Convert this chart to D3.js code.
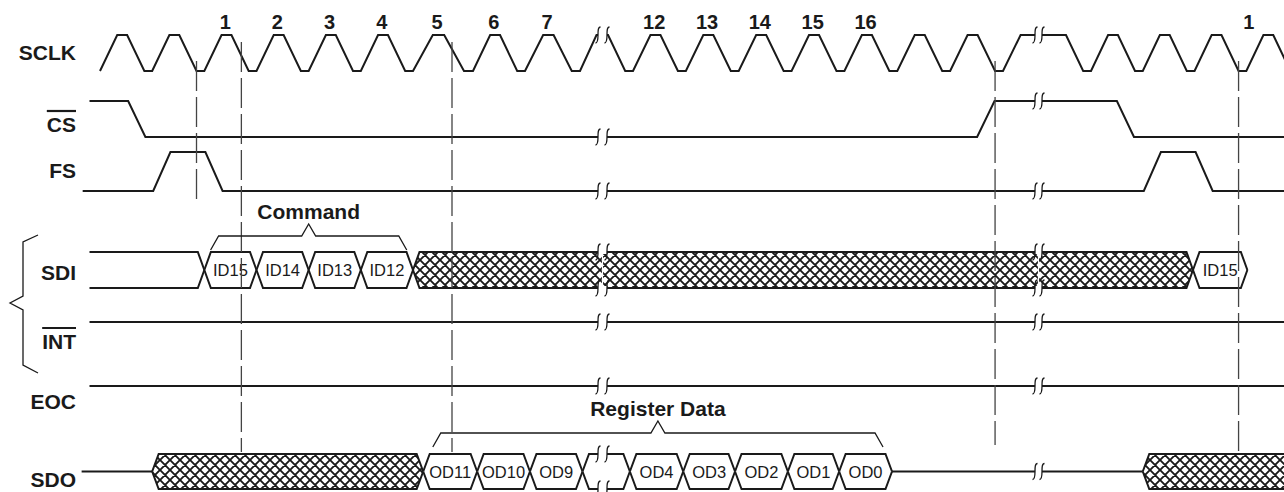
<!DOCTYPE html>
<html>
<head>
<meta charset="utf-8">
<script src="https://cdn.jsdelivr.net/npm/d3@7"></script>
<style>
  body { margin: 0; background: #fff; }
  text { font-family: 'Liberation Sans', Arial, sans-serif; fill: #1a1a1a; }
</style>
</head>
<body>
<script>
// time is counted in SCLK periods: cycle n starts rising at t = n
// (second frame: its cycle "1" is t = 24)
const signalNames = ['SCLK', 'CS', 'FS', 'SDI', 'INT', 'EOC', 'SDO'];
const overlined = ['CS', 'INT'];

const sclkRise = [-1, 0, 1, 2, 3, 4, 5, 6, 7, 8, 12, 13, 14, 15, 16, 17, 18, 19, 21, 22, 23, 24, 25];
const sclkFall = [-0.48, 0.52, 1.52, 2.52, 3.52, 4.52, 5.52, 6.52, 7.52, 11.52, 12.52, 13.52,
  14.52, 15.52, 16.52, 17.52, 18.52, 20.52, 21.52, 22.52, 23.52, 24.52];
const csRise = [18.51];
const csFall = [-0.46, 21.5];
const fsRise = [0.02, 22.02];
const fsFall = [1.02, 23.02];

const clockNumbers = ['1', '2', '3', '4', '5', '6', '7', '12', '13', '14', '15', '16', '1'];
const clockNumberCycles = [1, 2, 3, 4, 5, 6, 7, 12, 13, 14, 15, 16, 23.65];

// bus cells: [from, to, text]  ('#' = don't care)
const sdiCells = [
  [-1.2, 1, ''], [1, 2, 'ID15'], [2, 3, 'ID14'], [3, 4, 'ID13'], [4, 5, 'ID12'],
  [5, 22.97, '#'], [22.97, 24.02, 'ID15']
];
const sdiFloat = [];
const sdoCells = [
  [0, 5.17, '#'], [5.17, 6.08, 'OD11'], [6.08, 7.09, 'OD10'], [7.09, 8.05, 'OD9'],
  [8.05, 11.94, ''], [11.94, 12.95, 'OD4'], [12.95, 13.93, 'OD3'], [13.93, 14.93, 'OD2'],
  [14.93, 15.9, 'OD1'], [15.9, 16.9, 'OD0'], [22.0, 25.5, '#']
];
const sdoFloat = [[-1.35, 0], [16.9, 22.0]];

const breaks = [[8.36, 11.5], [19.6, 20.06]];

const markerTimes = [0.85, 1.71, 5.65, 18.85, 23.85];
const markerFrom = ['low', 'high', 'high', 'low', 'low'];
const markerTo = ['FS', 'SDO', 'SDO', 'EOC', 'SDO'];

const braceLabels = ['Command', 'Register Data'];
const braceFrom = [1.12, 5.33];
const braceTo = [4.88, 16.73];
const braceRow = ['SDI', 'SDO'];

// ---- layout
const W = 1284, H = 492;
const tStart = -1.2, tEnd = 25.5;
const SLOPE = 0.33;   // edge duration (periods)
const HALF = 6.5;     // half width of a bus crossing (px)
const ink = '#1a1a1a';

const rows = {
  SCLK: { hi: 35, lo: 71, label: 60 },
  CS: { hi: 101, lo: 137, label: 132 },
  FS: { hi: 152, lo: 191, label: 178 },
  SDI: { hi: 252, lo: 288, label: 280 },
  INT: { hi: 322, lo: 322, label: 349 },
  EOC: { hi: 386, lo: 386, label: 409 },
  SDO: { hi: 454, lo: 489, label: 487 }
};
const markerTopY = { low: 61, high: 42 };
const markerEndY = { FS: 203, SDO: 452, EOC: 445 };
const braceLift = { SDI: 2, SDO: 7 };

const x = d3.scaleLinear()
  .domain([-1.4, -1, 5, 6, 7, 8, 8.36, 11.5, 12, 19, 19.6, 20.06, 21, 25.5])
  .range([79, 100, 413, 473, 525, 580, 598, 607, 633, 1003, 1035, 1042, 1091, 1324]);

const line = d3.line();

const svg = d3.select('body').append('svg')
  .attr('width', W).attr('height', H);

// cross hatch
const P = 10;
svg.append('defs').append('pattern')
  .attr('id', 'hatch')
  .attr('patternUnits', 'userSpaceOnUse')
  .attr('width', P).attr('height', P)
  .append('path')
  .attr('d', `M0,0L${P},${P}M${P},0L0,${P}M-1,${P - 1}L1,${P + 1}M${P - 1},-1L${P + 1},1` +
    `M-1,1L1,-1M${P - 1},${P + 1}L${P + 1},${P - 1}`)
  .attr('stroke', ink).attr('stroke-width', 1.9);

svg.append('rect').attr('width', W).attr('height', H).attr('fill', '#fff');

function spans(a, b) {
  const out = [];
  let s = a;
  breaks.forEach(([l, r]) => {
    if (l > s && l < b) { out.push([s, l]); s = r; }
  });
  out.push([s, b]);
  return out;
}

function edgesOf(rise, fall) {
  return rise.map(t => ({ t, v: 1 }))
    .concat(fall.map(t => ({ t, v: 0 })))
    .sort((p, q) => p.t - q.t);
}

function levelAt(edges, v0, t) {
  let v = v0;
  edges.forEach(e => { if (e.t < t) v = e.v; });
  return v;
}

// ---- digital signals
const digital = [
  { name: 'SCLK', edges: edgesOf(sclkRise, sclkFall), v0: 0, start: -1 },
  { name: 'CS', edges: edgesOf(csRise, csFall), v0: 1, start: tStart },
  { name: 'FS', edges: edgesOf(fsRise, fsFall), v0: 0, start: -1.33 },
  { name: 'INT', edges: [], v0: 1, start: tStart },
  { name: 'EOC', edges: [], v0: 1, start: tStart }
];

digital.forEach(sig => {
  const r = rows[sig.name];
  const y = v => (v ? r.hi : r.lo);
  spans(sig.start, tEnd).forEach(([a, b]) => {
    let v = levelAt(sig.edges, sig.v0, a);
    const pts = [[x(a), y(v)]];
    sig.edges.filter(e => e.t >= a && e.t < b).forEach(e => {
      pts.push([x(e.t), y(v)]);
      const te = Math.min(e.t + SLOPE, b);
      pts.push([x(te), y(v) + (y(e.v) - y(v)) * (te - e.t) / SLOPE]);
      v = e.v;
    });
    pts.push([x(b), y(v)]);
    svg.append('path')
      .attr('d', line(pts))
      .attr('fill', 'none')
      .attr('stroke', ink)
      .attr('stroke-width', 2);
  });
});

// ---- buses
function drawBus(name, cells, floats) {
  const r = rows[name];
  const mid = (r.hi + r.lo) / 2;
  cells.forEach(([from, to, text]) => {
    const x0 = x(from), x1 = x(to);
    const openL = from <= tStart, openR = to >= tEnd;
    const top = [[openL ? x0 : x0 + HALF, r.hi], [openR ? x1 : x1 - HALF, r.hi]];
    const bot = [[openL ? x0 : x0 + HALF, r.lo], [openR ? x1 : x1 - HALF, r.lo]];
    if (!openL) { top.unshift([x0, mid]); bot.unshift([x0, mid]); }
    if (!openR) { top.push([x1, mid]); bot.push([x1, mid]); }
    svg.append('path')
      .attr('d', line(top.concat(bot.slice().reverse())) + 'Z')
      .attr('fill', text === '#' ? 'url(#hatch)' : '#fff');
    [top, bot].forEach(pts => {
      svg.append('path')
        .attr('d', line(pts))
        .attr('fill', 'none')
        .attr('stroke', ink)
        .attr('stroke-width', 2);
    });
    if (text && text !== '#') {
      svg.append('text')
        .attr('x', (x0 + x1) / 2)
        .attr('y', mid + 6)
        .attr('text-anchor', 'middle')
        .style('font-size', '16.5px')
        .text(text);
    }
  });
  floats.forEach(([a, b]) => {
    spans(a, b).forEach(([s, e]) => {
      svg.append('path')
        .attr('d', line([[x(s), mid], [x(e), mid]]))
        .attr('stroke', ink)
        .attr('stroke-width', 2);
    });
  });
}

drawBus('SDI', sdiCells, sdiFloat);
drawBus('SDO', sdoCells, sdoFloat);

// ---- break marks
function busLines(name, cells, floats, t) {
  const r = rows[name];
  if (cells.some(c => c[0] < t && c[1] > t)) {
    const hatched = cells.some(c => c[0] < t && c[1] > t && c[2] === '#');
    return { ys: [r.hi, r.lo], hatched, span: [r.hi, r.lo] };
  }
  if (floats.some(f => f[0] < t && f[1] > t)) return { ys: [(r.hi + r.lo) / 2] };
  return { ys: [] };
}

const breakMark = 'M2.5,-8C0,-8 0,-4 0,0C0,4 0,8 -2.5,8';

breaks.forEach(([l, r]) => {
  const xl = x(l), xr = x(r), tm = (l + r) / 2;
  const marks = [];
  digital.forEach(sig => {
    const v = levelAt(sig.edges, sig.v0, l);
    marks.push({ ys: [v ? rows[sig.name].hi : rows[sig.name].lo] });
  });
  marks.push(busLines('SDI', sdiCells, sdiFloat, tm));
  marks.push(busLines('SDO', sdoCells, sdoFloat, tm));
  marks.forEach(m => {
    if (m.hatched) {
      svg.append('line')
        .attr('x1', (xl + xr) / 2).attr('x2', (xl + xr) / 2)
        .attr('y1', m.span[0] + 1).attr('y2', m.span[1] - 1)
        .attr('stroke', '#fff').attr('stroke-width', 1.2);
    }
    m.ys.forEach(y => {
      svg.append('rect')
        .attr('x', xl).attr('y', y - 2)
        .attr('width', xr - xl).attr('height', 4)
        .attr('fill', '#fff');
      [xl, xr].forEach(xs => {
        svg.append('path')
          .attr('d', breakMark)
          .attr('transform', `translate(${xs},${y})`)
          .attr('fill', 'none')
          .attr('stroke', ink)
          .attr('stroke-width', 1.3);
      });
    });
  });
});

// ---- dashed reference lines
markerTimes.forEach((t, i) => {
  svg.append('line')
    .attr('x1', x(t)).attr('x2', x(t))
    .attr('y1', markerTopY[markerFrom[i]])
    .attr('y2', markerEndY[markerTo[i]])
    .attr('stroke', '#444')
    .attr('stroke-width', 1.3)
    .attr('stroke-dasharray', '30 6');
});

// ---- clock numbers
clockNumbers.forEach((n, i) => {
  svg.append('text')
    .attr('x', x(clockNumberCycles[i] + 0.4))
    .attr('y', 29)
    .attr('text-anchor', 'middle')
    .style('font-size', '20px')
    .style('font-weight', 'bold')
    .text(n);
});

// ---- braces over the buses
braceLabels.forEach((label, i) => {
  const x0 = x(braceFrom[i]), x1 = x(braceTo[i]);
  const xm = (x0 + x1) / 2;
  const y0 = rows[braceRow[i]].hi - braceLift[braceRow[i]];
  const pts = [[x0, y0], [x0 + 8, y0 - 14], [xm - 7, y0 - 14], [xm, y0 - 26],
    [xm + 7, y0 - 14], [x1 - 8, y0 - 14], [x1, y0]];
  svg.append('path')
    .attr('d', line(pts))
    .attr('fill', 'none')
    .attr('stroke', ink)
    .attr('stroke-width', 1.3);
  svg.append('text')
    .attr('x', xm)
    .attr('y', y0 - 31)
    .attr('text-anchor', 'middle')
    .style('font-size', '21px')
    .style('font-weight', 'bold')
    .text(label);
});

// ---- signal labels
signalNames.forEach(name => {
  const t = svg.append('text')
    .attr('x', 76)
    .attr('y', rows[name].label)
    .attr('text-anchor', 'end')
    .style('font-size', '21px')
    .style('font-weight', 'bold')
    .text(name);
  if (overlined.includes(name)) {
    const len = t.node().getComputedTextLength();
    svg.append('line')
      .attr('x1', 76 - len).attr('x2', 76)
      .attr('y1', rows[name].label - 21).attr('y2', rows[name].label - 21)
      .attr('stroke', ink)
      .attr('stroke-width', 2.2);
  }
});

// big brace grouping SDI and INT
const bt = rows.SDI.hi - 17, bb = rows.INT.hi + 51;
const bmid = (bt + bb) / 2 - 1;
svg.append('path')
  .attr('d', line([[38, bt], [23, bt + 7], [23, bmid - 7], [10, bmid], [23, bmid + 7], [23, bb - 8], [38, bb]]))
  .attr('fill', 'none')
  .attr('stroke', ink)
  .attr('stroke-width', 1.3);
</script>
</body>
</html>
